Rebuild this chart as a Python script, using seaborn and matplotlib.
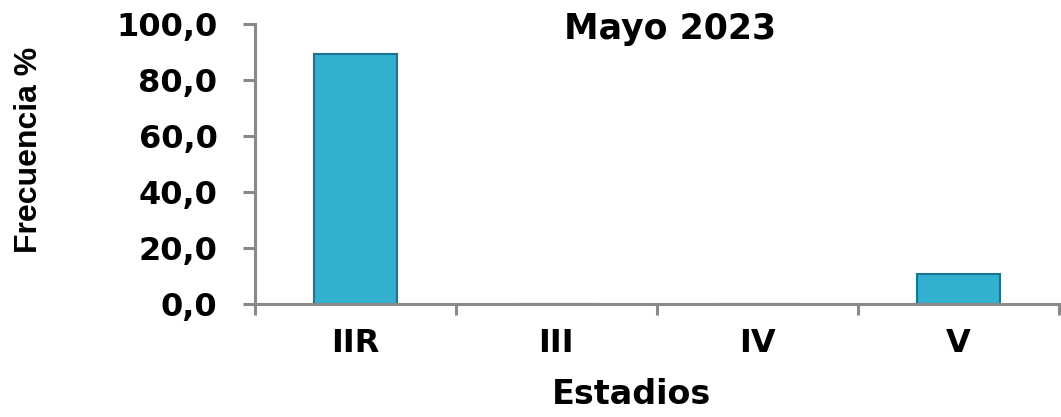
import matplotlib
matplotlib.use("Agg")
import matplotlib.pyplot as plt
import seaborn as sns
import pandas as pd

# data
estadios = ["IIR", "III", "IV", "V"]
frecuencia = [89.4, 0.0, 0.0, 10.6]
yticks = [0, 20, 40, 60, 80, 100]

df = pd.DataFrame({"Estadios": estadios, "Frecuencia": frecuencia})

sns.set_style("white")
plt.rcParams["font.family"] = ["DejaVu Sans"]
plt.rcParams["font.weight"] = "bold"
plt.rcParams["text.color"] = "black"
plt.rcParams["axes.labelcolor"] = "black"
plt.rcParams["xtick.labelcolor"] = "black"
plt.rcParams["ytick.labelcolor"] = "black"

fig = plt.figure(figsize=(10.61, 4.17), dpi=100)
ax = fig.add_axes([0.2403, 0.271, 0.7577, 0.6714])

sns.barplot(data=df, x="Estadios", y="Frecuencia", color="#33afd0",
            width=0.41, edgecolor="#1c7390", linewidth=1.5, ax=ax,
            saturation=1)

ax.set_xlim(-0.5, 3.5)
ax.set_ylim(0, 100)
ax.set_yticks(yticks)
ax.set_yticklabels([f"{v:.1f}".replace(".", ",") for v in yticks])

# category boundaries carry the tick marks, labels sit at the centres
ax.set_xticks(range(len(estadios)))
ax.set_xticklabels(estadios)
ax.set_xticks([i - 0.5 for i in range(len(estadios) + 1)], minor=True)
ax.tick_params(axis="x", which="major", length=0, pad=17, labelsize=23)
ax.tick_params(axis="x", which="minor", length=8, width=2.2,
               color="#898989", direction="out", bottom=True)
ax.tick_params(axis="y", length=9, width=2.2, color="#898989",
               direction="out", left=True, pad=18, labelsize=23)

for side in ["top", "right"]:
    ax.spines[side].set_visible(False)
for side in ["left", "bottom"]:
    ax.spines[side].set_color("#898989")
    ax.spines[side].set_linewidth(2.2)

ax.set_xlabel("Estadios", fontsize=24, fontweight="bold")
ax.xaxis.set_label_coords(0.469, -0.265)
ax.set_ylabel("Frecuencia %", fontsize=23, fontweight="bold",
              family=["Liberation Sans"])
ax.yaxis.set_label_coords(-0.262, 0.55)

ax.text(0.516, 0.983, "Mayo 2023", transform=ax.transAxes, ha="center",
        va="center", fontsize=25, fontweight="bold")

fig.savefig("out.png", dpi=100)
plt.close(fig)
